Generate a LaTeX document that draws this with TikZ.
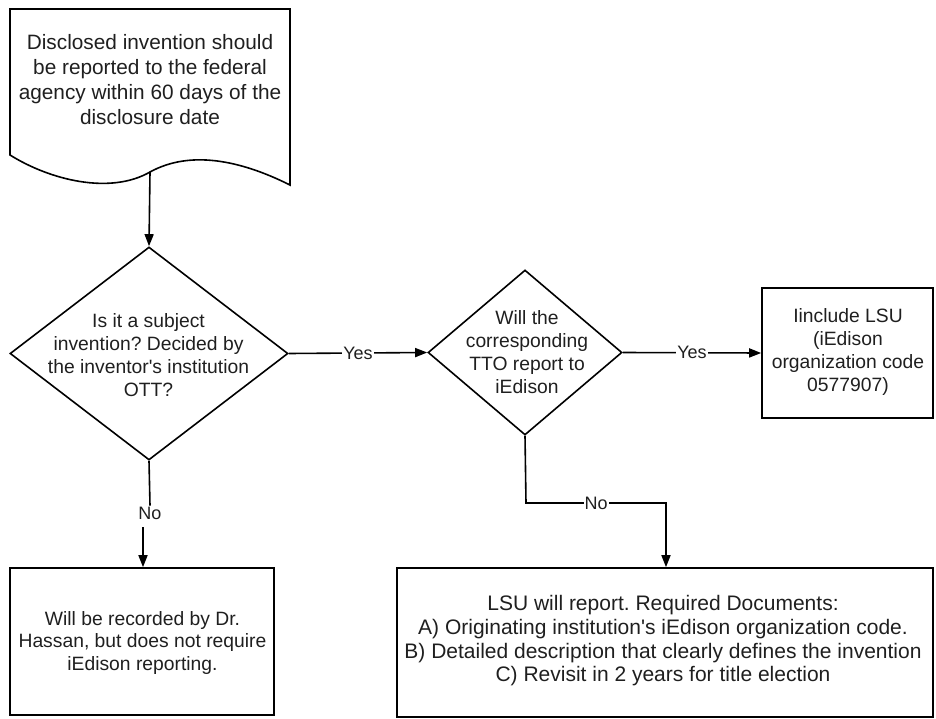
\documentclass[tikz,border=0pt]{standalone}
\usepackage{fontspec}
\setmainfont{Liberation Sans}
\usetikzlibrary{arrows.meta,shapes.geometric}
\frenchspacing
\begin{document}
\begin{tikzpicture}[x=1pt,y=-1pt,
  lw/.style={line width=1.6pt},
  txt/.style={align=center,font=\fontsize{19.3}{22.8}\selectfont,text=black!88,inner sep=0pt},
  boxnode/.style={draw,lw,inner sep=0pt},
  dia/.style={draw,lw,shape=diamond,inner sep=0pt},
  arr/.style={lw,-{Triangle[length=12pt,width=9pt]}},
  lab/.style={fill=white,inner sep=1pt,font=\fontsize{18}{21}\selectfont,text=black!88}
]
\useasboundingbox (0,0) rectangle (936,719);
% document shape
\draw[lw] (10,155) -- (10,9) -- (290,9) -- (290,185)
  .. controls (240,160) and (190,150) .. (150,172)
  .. controls (110,195) and (50,180) .. (10,155) -- cycle;
\coordinate (docb) at (150,172);
\node[txt,font=\fontsize{20.8}{25}\selectfont] (doct) at (150,80)
  {Disclosed invention should\\be reported to the federal\\agency within 60 days of the\\disclosure date};
% decision 1
\node[dia,minimum width=278pt,minimum height=213pt] (d1) at (149,353.5) {};
\node[txt] (d1t) at (148.5,355) {Is it a subject\\invention? Decided by\\the inventor\textquotesingle s institution\\OTT?};
% decision 2
\node[dia,minimum width=194pt,minimum height=165pt] (d2) at (525,352.5) {};
\node[txt] (d2t) at (527,352) {Will the\\corresponding\\TTO report to\\iEdison};
% right box
\node[boxnode,minimum width=171pt,minimum height=130pt] (b1) at (847.5,353) {};
\node[txt] (b1t) at (848,352) {Iinclude LSU\\(iEdison\\organization code\\0577907)};
% bottom left box
\node[boxnode,minimum width=264pt,minimum height=147pt] (b2) at (142,641.5) {};
\node[txt] (b2t) at (142.5,643) {Will be recorded by Dr.\\Hassan, but does not require\\iEdison reporting.};
% bottom right box
\node[boxnode,minimum width=536pt,minimum height=149pt] (b3) at (665,642.5) {};
\node[txt,font=\fontsize{21}{23.7}\selectfont] (b3t) at (663,641) {LSU will report. Required Documents:\\A) Originating institution\textquotesingle s iEdison organization code.\\B) Detailed description that clearly defines the invention\\C) Revisit in 2 years for title election};
% connectors
\draw[arr] (docb) -- (d1.north);
\draw[arr] (d1.east) -- node[lab] (y1) {Yes} (d2.west);
\draw[arr] (d2.east) -- node[lab] (y2) {Yes} (b1.west);
\node[lab,fill=none] (n1) at (150,513) {No};
\draw[lw] (d1.south) -- (n1.north);
\coordinate (n1b) at (143,527);
\draw[arr] (n1b) -- (n1b |- b2.north);
\coordinate (c1) at (526,503);
\coordinate (c2) at (666,503);
\draw[arr] (d2.south) -- (c1) -- node[lab] (n2) {No} (c2) -- (c2 |- b3.north);
\end{tikzpicture}
\end{document}
